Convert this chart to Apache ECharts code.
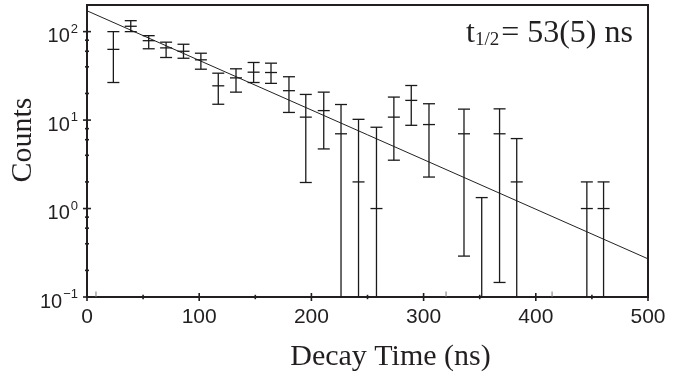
<!DOCTYPE html>
<html><head><meta charset="utf-8">
<script src="https://cdn.jsdelivr.net/npm/echarts@6/dist/echarts.min.js"></script>
<style>html,body{margin:0;padding:0;background:#fff}#c{width:684px;height:379px}</style>
</head><body><div id="c"></div>
<script>
// ---- data ----
const binTime  = [23.5, 39, 55, 70.5, 86, 101.5, 117, 132.8, 148.5, 164, 180, 195, 211, 226.4, 242, 258, 273.5, 289, 304.8, 336, 351.8, 367.7, 383, 445.5, 460.4];
const counts   = [63, 115, 79, 65.5, 60, 48, 24.4, 30, 34.8, 34.5, 21.5, 10.8, 12.8, 7, 2, 1, 10.8, 16.7, 8.9, 7, null, 7, 2, 1, 1];
const errLow   = [26.6, 100, 64, 51, 50, 37.6, 15.1, 20.7, 26.6, 26, 12.2, 1.97, 4.72, 0, 0, 0, 3.52, 8.73, 2.27, 0.29, 0, 0.146, 0, 0, 0];
const errHigh  = [100, 133, 90, 76, 72, 57, 33.9, 38, 44.8, 44, 30.9, 19.5, 20.7, 15, 10.2, 8.3, 18.2, 24.6, 15.3, 13.3, 1.33, 13.4, 6.18, 2, 2];
const zeroBinTime = [8, 320, 414.5];
const fitTime   = [0, 500];
const fitCounts = [172, 0.27];
const xMajorTicks = [0, 100, 200, 300, 400, 500];
const xMinorTicks = [50, 150, 250, 350, 450];
const yMajorTicks = [0.1, 1, 10, 100];
const yMinorTicks = [0.2, 0.4, 0.6, 0.8, 2, 4, 6, 8, 20, 40, 60, 80];
const yTickExponents = ['\u22121', '0', '1', '2'];
const xTitle = 'Decay Time (ns)';
const yTitle = 'Counts';

const yMin = 0.1, yMax = 200, xMin = 0, xMax = 500;
const INK = '#231f20';
const SANS = '"Liberation Sans", Arial, Helvetica, sans-serif';
const SERIF = '"Liberation Serif", "Times New Roman", serif';

const chart = echarts.init(document.getElementById('c'), null, {renderer: 'canvas'});

function errItem(params, api) {
  const i = params.dataIndex;
  const t = api.value(0);
  const top = api.coord([t, api.value(2)]);
  const bot = api.coord([t, api.value(1)]);
  const st = {stroke: '#1a1a1a', lineWidth: 1.3};
  const hw = 6;
  const ch = [
    {type: 'line', shape: {x1: top[0], y1: top[1], x2: bot[0], y2: bot[1]}, style: st},
    {type: 'line', shape: {x1: top[0] - hw, y1: top[1], x2: top[0] + hw, y2: top[1]}, style: st}
  ];
  if (errLow[i] > 0) ch.push({type: 'line', shape: {x1: bot[0] - hw, y1: bot[1], x2: bot[0] + hw, y2: bot[1]}, style: st});
  if (counts[i] != null) {
    const c = api.coord([t, counts[i]]);
    ch.push({type: 'line', shape: {x1: c[0] - hw, y1: c[1], x2: c[0] + hw, y2: c[1]}, style: st});
  }
  return {type: 'group', children: ch};
}

// tick items: [kind, value] kind: 0 x-major, 1 x-minor, 2 y-major, 3 y-minor, 4 zero-bin
const tickData = [];
xMajorTicks.forEach(v => tickData.push([0, v]));
xMinorTicks.forEach(v => tickData.push([1, v]));
yMajorTicks.forEach(v => tickData.push([2, v]));
yMinorTicks.forEach(v => tickData.push([3, v]));
zeroBinTime.forEach(v => tickData.push([4, v]));

function tickItem(params, api) {
  const kind = api.value(0), v = api.value(1);
  const st = {stroke: INK, lineWidth: 1.6};
  let p, shape;
  if (kind === 0 || kind === 1) {
    p = api.coord([v, yMin]);
    const a = kind === 0 ? 4 : 2.2;
    shape = {x1: p[0], y1: p[1] - a, x2: p[0], y2: p[1] + a};
  } else if (kind === 2 || kind === 3) {
    p = api.coord([xMin, v]);
    const a = kind === 2 ? 4 : 2;
    shape = {x1: p[0] - a, y1: p[1], x2: p[0] + a, y2: p[1]};
  } else {
    p = api.coord([v, yMin]);
    shape = {x1: p[0], y1: p[1], x2: p[0], y2: p[1] - 5.5};
    st.stroke = '#777'; st.lineWidth = 1;
  }
  return {type: 'line', shape: shape, style: st};
}

chart.setOption({
  animation: false,
  backgroundColor: '#fff',
  grid: {left: 87, right: 36, top: 5, bottom: 82, show: true, borderColor: INK, borderWidth: 2, backgroundColor: 'transparent'},
  xAxis: {
    type: 'value', min: xMin, max: xMax, interval: 100,
    axisLine: {show: true, lineStyle: {color: INK, width: 2}},
    axisTick: {show: false}, splitLine: {show: false},
    axisLabel: {color: INK, fontFamily: SANS, fontSize: 21, margin: 10}
  },
  yAxis: {
    type: 'log', logBase: 10, min: yMin, max: yMax,
    axisLine: {show: true, lineStyle: {color: INK, width: 2}},
    axisTick: {show: false}, splitLine: {show: false}, minorTick: {show: false},
    axisLabel: {
      margin: 9, showMaxLabel: false,
      padding: [6, 0, 0, 0],
      formatter: function (v) {
        const l = Math.log10(v), e = Math.round(l);
        if (Math.abs(l - e) > 1e-6) return '';
        const idx = yMajorTicks.findIndex(m => Math.abs(Math.log10(m) - e) < 1e-6);
        if (idx < 0) return '';
        return '{b|10}{s|' + yTickExponents[idx] + '}';
      },
      rich: {
        b: {fontSize: 20, fontFamily: SANS, color: INK, lineHeight: 24, verticalAlign: 'bottom'},
        s: {fontSize: 13, fontFamily: SANS, color: INK, lineHeight: 12, verticalAlign: 'top', padding: [0, 0, 0, 1]}
      }
    }
  },
  series: [
    {
      type: 'line', data: fitTime.map((t, i) => [t, fitCounts[i]]),
      symbol: 'none', lineStyle: {color: '#222', width: 1}, z: 2
    },
    {
      type: 'custom', renderItem: errItem, clip: false, z: 3,
      data: binTime.map((t, i) => [t, errLow[i] > 0 ? errLow[i] : yMin, errHigh[i]]),
      encode: {x: 0, y: [1, 2]}
    },
    {
      type: 'custom', renderItem: tickItem, clip: false, z: 4,
      data: tickData, encode: {x: -1, y: -1}, silent: true
    }
  ],
  graphic: [
    {type: 'text', x: 390.5, y: 357, style: {text: xTitle, font: '30px ' + SERIF, fill: INK, textAlign: 'center', textVerticalAlign: 'middle'}},
    {type: 'text', x: 23, y: 140, rotation: Math.PI / 2, style: {text: yTitle, font: '30px ' + SERIF, fill: INK, textAlign: 'center', textVerticalAlign: 'middle'}},
    {type: 'text', x: 466, y: 32, style: {
      text: '{m|t}{u|1/2}{m|= 53(5) ns}', textAlign: 'left', textVerticalAlign: 'middle',
      rich: {
        m: {fontSize: 32, fontFamily: SERIF, fill: INK, color: INK, lineHeight: 36, verticalAlign: 'bottom'},
        u: {fontSize: 19, fontFamily: SERIF, fill: INK, color: INK, lineHeight: 19, verticalAlign: 'bottom', padding: [0, 2, 0, 0]}
      }
    }}
  ]
});
</script></body></html>
